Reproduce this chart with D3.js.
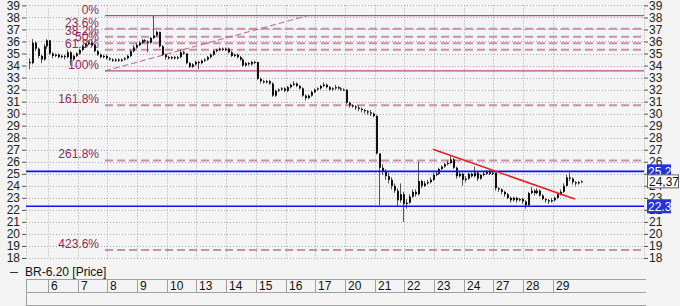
<!DOCTYPE html>
<html>
<head>
<meta charset="utf-8">
<script src="https://cdn.jsdelivr.net/npm/d3@7"></script>
<style>
body { margin: 0; background: #f4f4f4; }
svg { display: block; font-family: "Liberation Sans", Arial, sans-serif; }
</style>
</head>
<body>
<svg id="chart"></svg>
<script>
// day labels on the bottom strip (first partial day has no label)
const days = ['6', '7', '8', '9', '10', '13', '14', '15', '16', '17', '20', '21', '22', '23', '24', '27', '28', '29'];
const yTicks = d3.range(18, 40);

// intraday bars: 7 bars of a partial day, then 10 bars per day
const firstOpen = 34.3;
const closes = [
    34.2, 35.9, 35.4, 34.8, 34.5, 35.6, 36.1,
    35.0, 34.8, 34.9, 34.7, 34.8, 34.7, 35.1, 34.5, 34.8, 35.0,
    35.3, 35.6, 35.8, 35.9, 35.7, 35.2, 34.9, 34.7, 34.8, 34.6,
    34.5, 34.4, 34.5, 34.4, 34.5, 34.6, 34.8, 35.2, 35.5, 35.7,
    35.9, 36.1, 36.0, 35.9, 36.3, 36.5, 36.8, 35.6, 34.9, 34.7,
    34.6, 34.7, 34.6, 34.7, 35.1, 35.0, 34.2, 33.9, 34.1, 34.3,
    34.2, 34.4, 34.5, 34.7, 34.9, 35.2, 35.3, 35.4, 35.3, 35.4,
    35.1, 34.8, 34.9, 34.7, 34.5, 34.0, 34.2, 34.1, 34.3, 34.3,
    32.9, 32.7, 32.6, 32.7, 32.5, 31.5, 31.9, 32.0, 32.1, 31.9,
    32.2, 32.4, 32.5, 32.3, 32.1, 31.5, 31.3, 31.5, 31.8, 32.0,
    32.1, 32.3, 32.4, 32.2, 32.0, 32.1, 32.2, 32.1, 32.0, 32.0,
    30.9, 30.7, 30.6, 30.5, 30.4, 30.3, 30.2, 30.1, 30.0, 29.8,
    26.7, 25.5, 25.2, 24.8, 24.5, 24.0, 23.6, 22.8, 23.3, 22.5,
    22.6, 23.1, 23.5, 23.3, 24.4, 24.0, 24.2, 24.3, 24.5, 24.9,
    25.0, 25.4, 25.6, 25.8, 25.9, 26.2, 25.5, 24.8, 25.0, 24.5,
    24.6, 25.0, 24.8, 25.1, 24.6, 24.9, 25.0, 25.2, 25.0, 25.1,
    23.8, 23.7, 23.5, 23.3, 23.0, 22.8, 23.0, 22.8, 22.9, 22.7,
    22.4, 23.4, 23.6, 23.4, 23.6, 23.2, 22.9, 22.8, 22.7, 22.8,
    23.0, 23.3, 23.5, 24.0, 24.7, 24.6, 24.3, 24.2, 24.3, 24.37
];
const highs = [
    34.6, 36.2, 36.0, 35.5, 34.9, 35.8, 36.2,
    36.1, 35.1, 35.0, 35.0, 34.9, 34.9, 35.3, 35.2, 34.9, 35.1,
    35.4, 35.7, 35.9, 36.1, 36.0, 35.8, 35.3, 35.0, 34.9, 34.9,
    34.7, 34.6, 34.6, 34.6, 34.6, 34.7, 34.9, 35.3, 35.7, 35.9,
    36.0, 36.2, 36.2, 36.1, 36.4, 38.15, 36.9, 36.8, 35.7, 35.0,
    34.8, 34.8, 34.8, 34.8, 35.3, 35.2, 35.0, 34.3, 34.2, 34.4,
    34.4, 34.5, 34.6, 34.8, 35.0, 35.3, 35.4, 35.5, 35.5, 35.5,
    35.5, 35.2, 35.0, 35.0, 34.8, 34.6, 34.3, 34.3, 34.4, 34.4,
    34.3, 33.0, 32.8, 32.8, 32.8, 32.6, 32.0, 32.1, 32.2, 32.2,
    32.3, 32.5, 32.7, 32.6, 32.4, 32.2, 31.6, 31.6, 31.9, 32.1,
    32.2, 32.4, 32.6, 32.5, 32.3, 32.2, 32.4, 32.3, 32.2, 32.1,
    32.0, 31.0, 30.8, 30.7, 30.7, 30.5, 30.4, 30.3, 30.3, 30.1,
    29.9, 26.3, 25.8, 25.4, 25.1, 24.7, 24.2, 23.8, 24.2, 23.5,
    22.9, 23.3, 23.7, 23.7, 26.0, 24.5, 24.4, 24.5, 24.7, 25.1,
    25.2, 25.5, 25.7, 25.9, 26.1, 26.5, 26.3, 25.6, 25.2, 25.1,
    24.8, 25.1, 25.1, 25.6, 25.2, 25.0, 25.2, 25.3, 25.3, 25.2,
    25.1, 23.9, 23.8, 23.6, 23.4, 23.1, 23.1, 23.1, 23.0, 23.0,
    22.8, 23.5, 23.9, 23.7, 23.8, 23.7, 23.3, 23.0, 22.9, 23.0,
    23.1, 23.4, 23.7, 24.2, 24.9, 25.1, 24.7, 24.4, 24.4, 24.45
];
const lows = [
    33.7, 34.1, 35.2, 34.6, 34.2, 34.4, 35.4,
    34.9, 34.6, 34.7, 34.6, 34.6, 34.5, 34.6, 34.0, 34.4, 34.7,
    34.9, 35.2, 35.5, 35.7, 35.6, 35.1, 34.8, 34.6, 34.6, 34.5,
    34.4, 34.3, 34.3, 34.3, 34.3, 34.4, 34.5, 34.7, 35.1, 35.4,
    35.6, 35.8, 35.9, 35.1, 35.8, 36.2, 36.4, 35.5, 34.8, 34.5,
    34.5, 34.5, 34.5, 34.5, 34.6, 34.9, 34.1, 33.8, 33.8, 34.0,
    33.7, 34.1, 34.3, 34.4, 34.6, 34.8, 35.1, 35.2, 35.2, 35.2,
    35.0, 34.7, 34.7, 34.6, 34.4, 33.9, 33.9, 34.0, 34.0, 34.1,
    32.8, 32.5, 32.5, 32.5, 32.4, 31.4, 31.4, 31.8, 31.9, 31.8,
    31.8, 32.1, 32.3, 32.2, 32.0, 31.4, 31.1, 31.2, 31.4, 31.7,
    31.9, 32.0, 32.2, 32.1, 31.9, 31.9, 32.0, 32.0, 31.9, 31.9,
    30.8, 30.5, 30.5, 30.3, 30.2, 30.1, 30.0, 29.9, 29.8, 29.7,
    26.6, 22.4, 24.9, 24.5, 24.2, 23.7, 23.4, 22.3, 22.6, 21.0,
    22.1, 22.5, 23.0, 23.1, 23.2, 23.8, 23.9, 24.1, 24.2, 24.4,
    24.8, 24.9, 25.3, 25.5, 25.7, 25.8, 25.4, 24.6, 24.7, 24.0,
    24.3, 24.5, 24.7, 24.7, 24.4, 24.5, 24.8, 24.9, 24.9, 24.9,
    23.6, 23.5, 23.3, 23.1, 22.9, 22.6, 22.7, 22.6, 22.7, 22.5,
    22.1, 22.3, 23.3, 23.2, 23.3, 23.1, 22.8, 22.6, 22.5, 22.6,
    22.7, 22.9, 23.2, 23.4, 23.9, 24.4, 24.1, 24.0, 24.1, 24.25
];

// fibonacci retracement, drawn from low anchor to high anchor (day position, price)
const fibAnchorLow = [1.92, 33.55];
const fibAnchorHigh = [8.75, 38.15];
const fibPcts = [0, 23.6, 38.2, 50, 61.8, 100, 161.8, 261.8, 423.6];
const fibLabels = ['0%', '23.6%', '38.2%', '50%', '61.8%', '100%', '161.8%', '261.8%', '423.6%'];

// support / resistance and trendline
const levels = [25.2, 22.3];
const levelLabels = ['25.2', '22.3'];
const trend = [[12.96, 27.05], [17.74, 22.9]];
const lastPrice = 24.37;
const lastLabel = '24,37';

const W = 680, H = 306;
const pL = 26, pR = 644, pT = 5.4, pB = 258;

const svg = d3.select('#chart').attr('width', W).attr('height', H);
svg.append('rect').attr('width', W).attr('height', H).attr('fill', '#f4f4f4');

const x = d3.scaleLinear().domain([-0.74, 20.07]).range([pL, pR]);
const y = d3.scaleLinear().domain([18, 39]).range([pB, pT]);

const barPos = i => i < 7 ? -1 + (3 + i + 0.5) / 10 : Math.floor((i - 7) / 10) + (((i - 7) % 10) + 0.5) / 10;

// grid
const grid = svg.append('g').attr('stroke', '#a8a8a8').attr('stroke-dasharray', '1,2');
grid.selectAll('line.h').data(yTicks).join('line')
    .attr('x1', pL).attr('x2', pR)
    .attr('y1', d => Math.round(y(d)) + 0.5).attr('y2', d => Math.round(y(d)) + 0.5);
grid.selectAll('line.v').data(days).join('line')
    .attr('x1', (d, i) => Math.round(x(i)) + 0.5).attr('x2', (d, i) => Math.round(x(i)) + 0.5)
    .attr('y1', pT).attr('y2', pB);
grid.append('line').attr('x1', pL + 0.5).attr('x2', pL + 0.5).attr('y1', pT).attr('y2', pB);
grid.append('line').attr('x1', pR + 0.5).attr('x2', pR + 0.5).attr('y1', pT).attr('y2', pB);

// axes
const axisL = svg.append('g').attr('transform', `translate(${pL},0)`)
    .call(d3.axisLeft(y).tickValues(yTicks).tickSize(4).tickPadding(2).tickFormat(d3.format('d')));
// right axis: the 25 label sits fully under the 25.2 tag, so it is not shown
const axisR = svg.append('g').attr('transform', `translate(${pR},0)`)
    .call(d3.axisRight(y).tickValues(yTicks).tickSize(4).tickPadding(1).tickFormat(d => d === 25 ? '' : d));
[axisL, axisR].forEach(a => {
    a.select('.domain').remove();
    a.selectAll('.tick line').attr('stroke', '#555');
    a.selectAll('.tick text').attr('fill', '#222').style('font-size', '12px').style('font-family', '"Liberation Sans", Arial, sans-serif');
});

// fibonacci levels
const fibRange = fibAnchorHigh[1] - fibAnchorLow[1];
const fibData = fibPcts.map((p, i) => ({ pct: p, label: fibLabels[i], v: fibAnchorHigh[1] - p / 100 * fibRange }));
const fib = svg.append('g');
fib.selectAll('line').data(fibData).join('line')
    .attr('x1', x(fibAnchorLow[0])).attr('x2', pR)
    .attr('y1', d => y(d.v)).attr('y2', d => y(d.v))
    .attr('stroke', d => (d.pct === 0 || d.pct === 100) ? '#b0508a' : '#c890ab')
    .attr('stroke-width', d => (d.pct === 0 || d.pct === 100) ? 1.3 : 2)
    .attr('stroke-dasharray', d => (d.pct === 0 || d.pct === 100) ? null : '8,4');
fib.append('line')
    .attr('x1', x(fibAnchorLow[0])).attr('y1', y(fibAnchorLow[1]))
    .attr('x2', x(fibAnchorHigh[0])).attr('y2', y(fibAnchorHigh[1]))
    .attr('stroke', '#c0608f').attr('stroke-width', 1).attr('stroke-dasharray', '6,3');

// candles
const bars = svg.append('g');
closes.forEach((c, i) => {
    const o = i === 0 ? firstOpen : closes[i - 1];
    const cx = Math.round(x(barPos(i)));
    bars.append('line')
        .attr('x1', cx + 0.5).attr('x2', cx + 0.5)
        .attr('y1', y(highs[i])).attr('y2', y(lows[i]))
        .attr('stroke', '#555').attr('stroke-width', 1);
    const y0 = y(Math.max(o, c)), y1 = y(Math.min(o, c));
    bars.append('rect')
        .attr('x', cx).attr('width', 2)
        .attr('y', y0).attr('height', Math.max(1, y1 - y0))
        .attr('fill', '#111');
});

// fib labels
fib.selectAll('text').data(fibData).join('text')
    .attr('x', 99).attr('y', d => y(d.v) - 2)
    .attr('text-anchor', 'end')
    .attr('fill', '#8e2a5e').style('font-size', '12px')
    .text(d => d.label);

// horizontal levels
svg.append('g').selectAll('line').data(levels).join('line')
    .attr('x1', pL).attr('x2', pR)
    .attr('y1', d => y(d)).attr('y2', d => y(d))
    .attr('stroke', '#1010f0').attr('stroke-width', 1.6);

// trendline
svg.append('line')
    .attr('x1', x(trend[0][0])).attr('y1', y(trend[0][1]))
    .attr('x2', x(trend[1][0])).attr('y2', y(trend[1][1]))
    .attr('stroke', '#ec1c1c').attr('stroke-width', 1.6);

// right side value tags
const tags = svg.append('g');
tags.selectAll('g').data(levels).join('g').each(function(d, i) {
    const g = d3.select(this);
    g.append('rect').attr('x', 647).attr('y', y(d) - 7).attr('width', 24).attr('height', 14).attr('fill', '#2233dd');
    g.append('text').attr('x', 648).attr('y', y(d) + 4.5).attr('fill', '#fff').style('font-size', '12px').text(levelLabels[i]);
});
tags.append('rect').attr('x', 647.5).attr('y', y(lastPrice) - 6.5).attr('width', 31).attr('height', 13)
    .attr('fill', '#fff').attr('stroke', '#666');
tags.append('text').attr('x', 649).attr('y', y(lastPrice) + 4.5).attr('fill', '#111').style('font-size', '12px').text(lastLabel);

// legend
svg.append('line').attr('x1', 10).attr('x2', 18).attr('y1', 272.5).attr('y2', 272.5).attr('stroke', '#333');
svg.append('text').attr('x', 25).attr('y', 276).attr('fill', '#111').style('font-size', '12px').text('BR-6.20 [Price]');

// date strip
const strip = svg.append('g').attr('stroke', '#a0a0a0');
[279.5, 292.5, 305.5].forEach(v => strip.append('line').attr('x1', pL).attr('x2', 646).attr('y1', v).attr('y2', v));
strip.append('line').attr('x1', pL + 0.5).attr('x2', pL + 0.5).attr('y1', 279.5).attr('y2', 305.5);
strip.selectAll('line.sep').data(days).join('line')
    .attr('x1', (d, i) => Math.round(x(i)) + 0.5).attr('x2', (d, i) => Math.round(x(i)) + 0.5)
    .attr('y1', 279.5).attr('y2', 292.5);
svg.append('g').selectAll('text').data(days).join('text')
    .attr('x', (d, i) => Math.round(x(i)) + 3).attr('y', 290)
    .attr('fill', '#111').style('font-size', '12px')
    .text(d => d);
</script>
</body>
</html>
